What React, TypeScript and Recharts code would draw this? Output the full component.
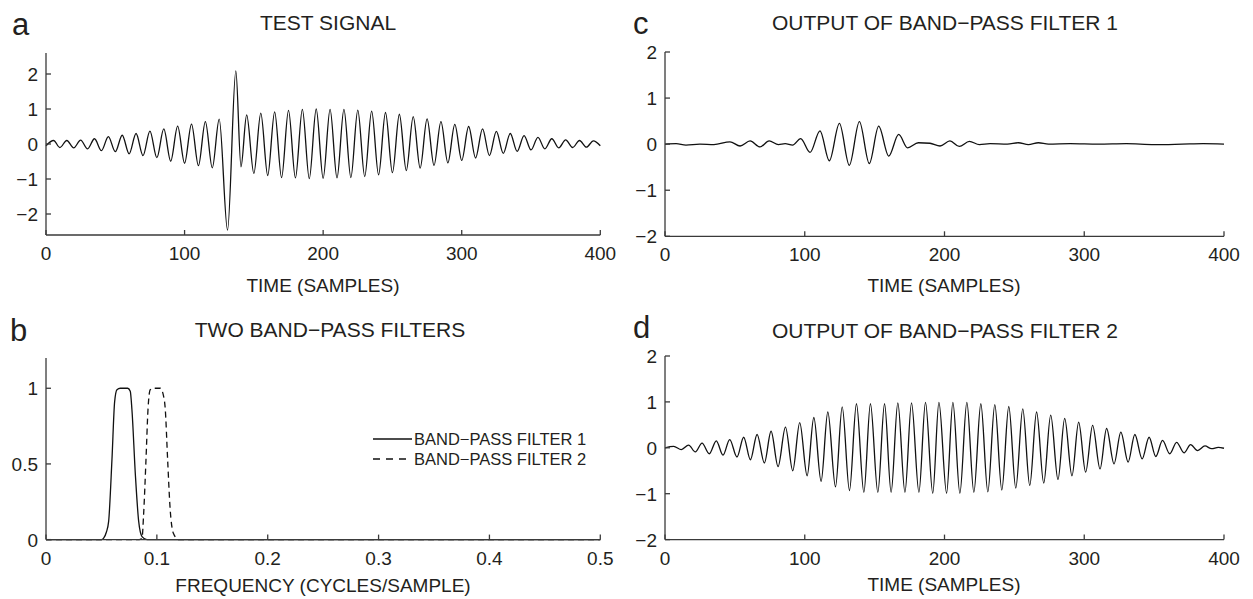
import { Line, LineChart, XAxis, YAxis } from "recharts";

const FONT = '"Liberation Sans", Arial, Helvetica, sans-serif';
const INK = "#231f20";
const AXIS = "#3a3a3a";

// a: test signal, local peaks and troughs
const testTimes = [
  0, 5.5, 10, 15, 20, 25, 30, 35, 40, 45, 50, 55, 60, 65, 70, 75, 80, 85, 90, 95, 100, 105, 110, 115, 120, 125,
  131, 137, 140.7, 144.8, 150, 155, 160, 165, 170, 175, 180, 185, 190, 195, 200, 205, 210, 215, 220, 225, 230,
  235, 240, 245, 250, 255, 260, 265, 270, 275, 280, 285, 290, 295, 300, 305, 310, 315, 320, 325, 330, 335, 340,
  345, 350, 355, 360, 365, 370, 375, 380, 385, 390, 395, 400,
];
const testValues = [
  -0.05, 0.1, -0.1, 0.1, -0.11, 0.11, -0.14, 0.15, -0.19, 0.21, -0.22, 0.25, -0.28, 0.3, -0.33, 0.37, -0.39, 0.43,
  -0.49, 0.51, -0.55, 0.57, -0.62, 0.64, -0.68, 0.71, -2.46, 2.09, -0.65, 0.83, -0.84, 0.88, -0.9, 0.92, -0.96,
  0.96, -0.97, 0.99, -0.99, 1.0, -0.98, 0.99, -0.97, 0.99, -0.96, 0.97, -0.93, 0.94, -0.88, 0.9, -0.82, 0.85, -0.76,
  0.78, -0.69, 0.72, -0.61, 0.64, -0.54, 0.56, -0.47, 0.5, -0.4, 0.43, -0.33, 0.36, -0.27, 0.3, -0.21, 0.24, -0.17,
  0.19, -0.14, 0.15, -0.11, 0.12, -0.1, 0.1, -0.09, 0.09, -0.05,
];

// c: output of band-pass filter 1
const bp1Times = [
  0, 8, 15, 25, 35, 46.5, 53.7, 60.9, 68, 74.5, 81.2, 86, 91.3, 97.1, 103.8, 110.9, 117.6, 124.8, 131.9, 139.1,
  146.2, 152.9, 160.1, 167.2, 173.6, 181.3, 189.6, 196.8, 203.9, 210.6, 217.8, 225, 232.6, 245, 252.9, 260, 267.2,
  274.4, 290, 310, 330, 350, 370, 385, 400,
];
const bp1Values = [
  0, 0.01, -0.02, 0, -0.01, 0.05, -0.04, 0.07, -0.06, 0.07, -0.01, 0.01, -0.02, 0.12, -0.18, 0.29, -0.36, 0.45,
  -0.46, 0.49, -0.42, 0.39, -0.26, 0.21, -0.08, 0.03, 0.02, -0.04, 0.07, -0.05, 0.06, -0.01, 0.01, 0, 0.03, -0.01,
  0.03, 0, 0.01, 0, 0.01, -0.01, 0, 0.01, 0,
];

// d: output of band-pass filter 2
const bp2Times = [
  0, 6.2, 11.7, 16.9, 21.7, 26.5, 31.7, 36.7, 41.5, 46.3, 51.5, 56.3, 61.1, 65.9, 71.1, 75.9, 80.9, 86.2, 91.4,
  96.4, 101.7, 106.5, 111.7, 116.5, 122, 126.8, 132, 137, 142.3, 147, 152.3, 157.1, 161.8, 166.6, 171.7, 176.4,
  181.7, 186.4, 191.6, 196, 201.5, 206, 211, 216, 221, 226, 231, 236, 241, 246, 251, 256, 261, 265.9, 271, 276,
  281.2, 286, 291.2, 296, 301, 306, 311.3, 316, 321.3, 326.2, 331.4, 336.2, 341.4, 346.4, 351.2, 356, 361.2,
  366.1, 371.4, 376.1, 381.1, 386.4, 391.1, 395.9, 400,
];
const bp2Values = [
  0, 0.03, -0.04, 0.06, -0.09, 0.1, -0.13, 0.15, -0.16, 0.18, -0.2, 0.23, -0.26, 0.29, -0.33, 0.36, -0.41, 0.45,
  -0.5, 0.55, -0.61, 0.66, -0.73, 0.78, -0.85, 0.89, -0.93, 0.96, -0.97, 0.96, -0.97, 0.96, -0.97, 0.98, -0.97,
  0.98, -0.97, 0.99, -0.99, 0.99, -0.99, 0.99, -0.99, 0.99, -0.97, 0.96, -0.96, 0.94, -0.92, 0.9, -0.88, 0.85,
  -0.82, 0.78, -0.77, 0.71, -0.69, 0.64, -0.61, 0.56, -0.53, 0.49, -0.46, 0.42, -0.35, 0.34, -0.31, 0.29, -0.24,
  0.23, -0.19, 0.16, -0.13, 0.12, -0.11, 0.07, -0.06, 0.04, -0.02, 0.01, -0.01,
];

// b: filter responses
const filter1Freq = [0, 0.05, 0.052, 0.0545, 0.0565, 0.0595, 0.0619, 0.064, 0.067, 0.0737, 0.076, 0.0775, 0.0806, 0.0836, 0.0866, 0.091, 0.5];
const filter1Gain = [0, 0, 0.01, 0.05, 0.12, 0.53, 0.91, 0.99, 1, 1, 0.98, 0.86, 0.43, 0.12, 0.02, 0, 0];
const filter2Freq = [0, 0.084, 0.0866, 0.088, 0.0902, 0.092, 0.094, 0.0971, 0.103, 0.106, 0.1076, 0.1097, 0.112, 0.115, 0.1196, 0.5];
const filter2Gain = [0, 0, 0.01, 0.16, 0.53, 0.86, 0.99, 1, 1, 0.95, 0.86, 0.53, 0.2, 0.04, 0, 0];

const timeTicks = [0, 100, 200, 300, 400];
const ampTicks = [-2, -1, 0, 1, 2];
const freqTicks = [0, 0.1, 0.2, 0.3, 0.4, 0.5];
const gainTicks = [0, 0.5, 1];

const zip = (xs: number[], ys: number[]) => xs.map((x, i) => ({ x, v: ys[i] }));

const fmt = (v: number) => (v < 0 ? "\u2212" + String(-v) : String(v));

function XTick(props: any) {
  const { x, y, payload } = props;
  return (
    <g>
      <line x1={x} x2={x} y1={y} y2={y - 5} stroke={AXIS} strokeWidth={1.3} />
      <text x={x} y={y + 25} textAnchor="middle" fontSize={19} fontFamily={FONT} fill={INK}>
        {fmt(payload.value)}
      </text>
    </g>
  );
}

function YTick(props: any) {
  const { x, y, payload } = props;
  return (
    <g>
      <line x1={x} x2={x + 5} y1={y} y2={y} stroke={AXIS} strokeWidth={1.3} />
      <text x={x - 8} y={y + 7} textAnchor="end" fontSize={19} fontFamily={FONT} fill={INK}>
        {fmt(payload.value)}
      </text>
    </g>
  );
}

type PanelProps = {
  L: number;
  R: number;
  T: number;
  B: number;
  xDomain: [number, number];
  yDomain: [number, number];
  xTicks: number[];
  yTicks: number[];
  data?: { x: number; v: number }[];
  children: any;
};

function Panel({ L, R, T, B, xDomain, yDomain, xTicks, yTicks, data, children }: PanelProps) {
  const left = L - 45;
  const top = T - 12;
  const width = R - L + 65;
  const height = B - T + 52;
  return (
    <div style={{ position: "absolute", left, top }}>
      <LineChart width={width} height={height} data={data} margin={{ top: 12, left: 5, right: 20, bottom: 10 }}>
        <XAxis
          type="number"
          dataKey="x"
          domain={xDomain}
          ticks={xTicks}
          interval={0}
          height={30}
          tickSize={0}
          tickMargin={0}
          tickLine={false}
          axisLine={{ stroke: AXIS, strokeWidth: 1.3 }}
          tick={(p: any) => <XTick {...p} />}
        />
        <YAxis
          type="number"
          domain={yDomain}
          ticks={yTicks}
          interval={0}
          width={40}
          tickSize={0}
          tickMargin={0}
          tickLine={false}
          axisLine={{ stroke: AXIS, strokeWidth: 1.3 }}
          tick={(p: any) => <YTick {...p} />}
        />
        {children}
      </LineChart>
    </div>
  );
}

const lineProps = {
  type: "monotone" as const,
  dataKey: "v",
  stroke: "#111",
  strokeWidth: 1.3,
  dot: false,
  isAnimationActive: false,
};

export default function App() {
  const txt = { fontFamily: FONT, fill: INK };
  return (
    <div style={{ position: "absolute", left: 0, top: 0, width: 1253, height: 599, background: "#fff", overflow: "hidden" }}>
      <Panel L={45.7} R={600} T={53.3} B={235.3} xDomain={[0, 400]} yDomain={[-2.6, 2.6]} xTicks={timeTicks} yTicks={ampTicks} data={zip(testTimes, testValues)}>
        <Line {...lineProps} />
      </Panel>
      <Panel L={665} R={1224} T={51.7} B={236} xDomain={[0, 400]} yDomain={[-2, 2]} xTicks={timeTicks} yTicks={ampTicks} data={zip(bp1Times, bp1Values)}>
        <Line {...lineProps} />
      </Panel>
      <Panel L={45.7} R={600} T={357.7} B={539.3} xDomain={[0, 0.5]} yDomain={[0, 1.2]} xTicks={freqTicks} yTicks={gainTicks}>
        <Line {...lineProps} data={zip(filter1Freq, filter1Gain)} />
        <Line {...lineProps} data={zip(filter2Freq, filter2Gain)} strokeDasharray="6 4" />
      </Panel>
      <Panel L={665} R={1224} T={355.7} B={539.3} xDomain={[0, 400]} yDomain={[-2, 2]} xTicks={timeTicks} yTicks={ampTicks} data={zip(bp2Times, bp2Values)}>
        <Line {...lineProps} />
      </Panel>

      <svg width={1253} height={599} style={{ position: "absolute", left: 0, top: 0, pointerEvents: "none" }}>
        <text x={12} y={35} fontSize={31} {...txt}>a</text>
        <text x={10} y={341} fontSize={31} {...txt}>b</text>
        <text x={633} y={34} fontSize={31} {...txt}>c</text>
        <text x={633} y={338} fontSize={31} {...txt}>d</text>

        <text x={328} y={30} fontSize={21} textAnchor="middle" {...txt}>TEST SIGNAL</text>
        <text x={330} y={337} fontSize={21} textAnchor="middle" {...txt}>TWO BAND{"\u2212"}PASS FILTERS</text>
        <text x={945} y={30} fontSize={21} textAnchor="middle" {...txt}>OUTPUT OF BAND{"\u2212"}PASS FILTER 1</text>
        <text x={945} y={338} fontSize={21} textAnchor="middle" {...txt}>OUTPUT OF BAND{"\u2212"}PASS FILTER 2</text>

        <text x={323} y={292} fontSize={19} textAnchor="middle" {...txt}>TIME (SAMPLES)</text>
        <text x={944} y={292} fontSize={19} textAnchor="middle" {...txt}>TIME (SAMPLES)</text>
        <text x={323} y={592} fontSize={19} textAnchor="middle" {...txt}>FREQUENCY (CYCLES/SAMPLE)</text>
        <text x={944} y={591} fontSize={19} textAnchor="middle" {...txt}>TIME (SAMPLES)</text>

        <line x1={373} x2={412} y1={439} y2={439} stroke="#111" strokeWidth={1.3} />
        <text x={414} y={445} fontSize={16.5} {...txt}>BAND{"\u2212"}PASS FILTER 1</text>
        <line x1={373} x2={412} y1={459} y2={459} stroke="#111" strokeWidth={1.3} strokeDasharray="7 6" />
        <text x={414} y={465} fontSize={16.5} {...txt}>BAND{"\u2212"}PASS FILTER 2</text>
      </svg>
    </div>
  );
}
